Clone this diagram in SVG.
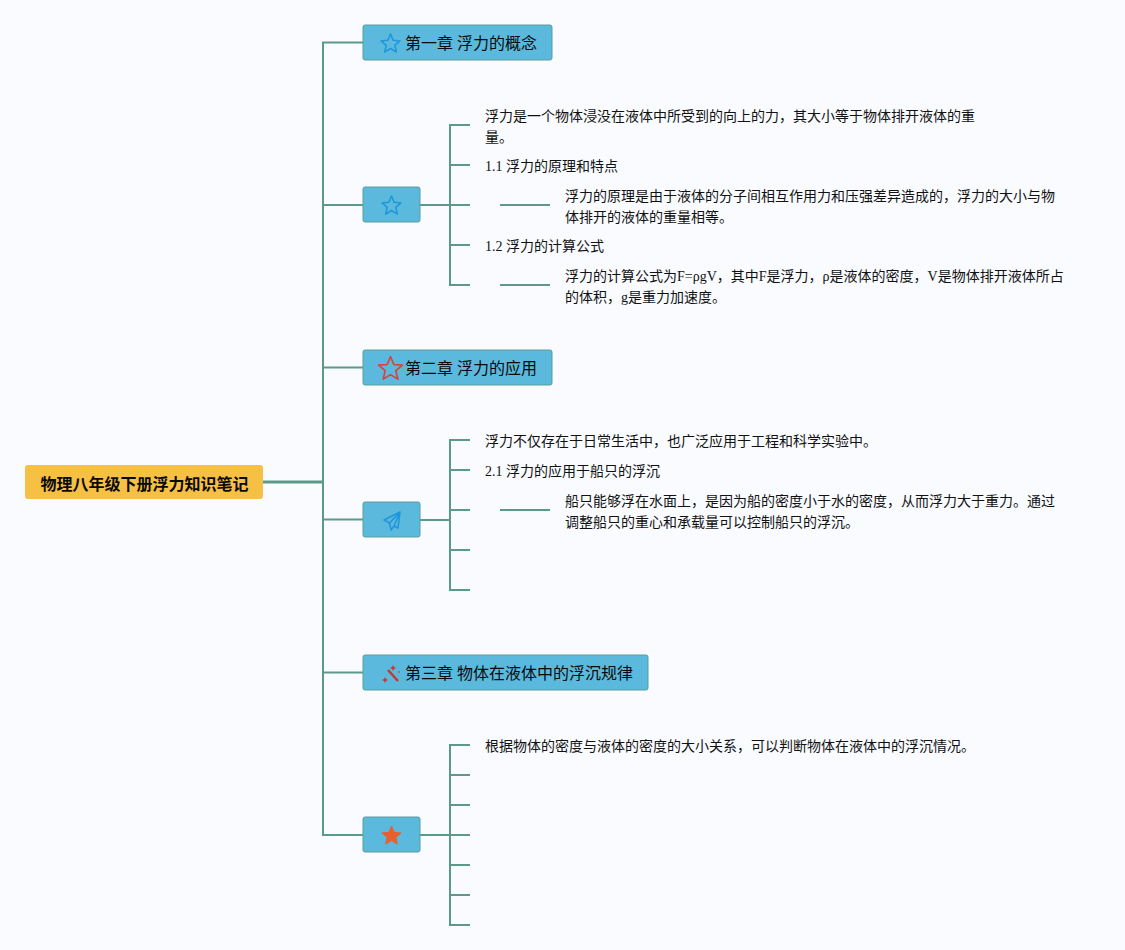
<svg xmlns="http://www.w3.org/2000/svg" width="1125" height="950" viewBox="0 0 1125 950">
<style>
text{font-family:"Liberation Serif","Noto Sans CJK SC",serif;fill:#111;font-size:14px}
.t{font-size:16px;fill:#0a0a0a}
.r{font-size:16px;font-weight:700;fill:#0a0a0a;font-family:"Liberation Sans","Noto Sans CJK SC",sans-serif}
.n{fill:#5ab9dc;stroke:#5a9e9c;stroke-width:1}
.c{fill:none;stroke:#5b9a8b;stroke-width:2}
</style>
<defs>
<path id="star" d="M0-10 2.65-3.64 9.51-3.09 4.28 1.39 5.88 8.09 0 4.5-5.88 8.09-4.28 1.39-9.51-3.09-2.65-3.64Z" stroke-linejoin="round"/>
</defs>
<rect width="1125" height="950" fill="#f9fbff"/>
<g id="connectors">
<path class="c" d="M263 482H323" stroke-width="3" style="stroke-width:3"/>
<path class="c" d="M363 42.500H323V835H363M323 205H363M323 367.500H363M323 519.500H363M323 672.500H363"/>
<path class="c" d="M420 205H450M470 125H450V285H470M450 165H470M450 205H470M450 245H470M500 205H550M500 285H550"/>
<path class="c" d="M420 520H450M470 440H450V590H470M450 470H470M450 510H470M450 550H470M500 510H550"/>
<path class="c" d="M420 835H450M470 745H450V925H470M450 775H470M450 805H470M450 835H470M450 865H470M450 895H470"/>
</g>
<g id="root"><rect x="25" y="465" width="238" height="34" rx="3" fill="#f6c044"/><text class="r" x="40.500" y="490">物理八年级下册浮力知识笔记</text></g>
<g id="ch1"><rect class="n" x="363" y="25" width="189" height="35" rx="2"/><use href="#star" x="390.500" y="44" fill="none" stroke="#1f96dc" stroke-width="1.500"/><text class="t" x="405" y="49">第一章 浮力的概念</text></g>
<g id="n1"><rect class="n" x="363" y="187" width="57" height="35" rx="2"/><use href="#star" x="391.500" y="206" fill="none" stroke="#1f96dc" stroke-width="1.500"/></g>
<g id="ch2"><rect class="n" x="363" y="350" width="189" height="35" rx="2"/><use href="#star" transform="translate(390.500 369) scale(1.250)" fill="none" stroke="#d8423a" stroke-width="1.300"/><text class="t" x="405" y="374">第二章 浮力的应用</text></g>
<g id="n2"><rect class="n" x="363" y="502" width="57" height="35" rx="2"/><path d="M400 512 384 520 389.500 523 391 530 394 526 398 528ZM389.500 523 400 512 394 526" fill="none" stroke="#1f96dc" stroke-width="1.500" stroke-linejoin="round"/></g>
<g id="ch3"><rect class="n" x="363" y="655" width="285" height="35" rx="2"/><path d="M388 670 398 681" stroke="#c9382f" stroke-width="2.500" fill="none"/><path d="M393 665 394 667 396 668 394 669 393 671 392 669 390 668 392 667ZM385 677 386 679 388 680 386 681 385 683 384 681 382 680 384 679ZM399 671l1 1-1 1-1-1Z" fill="#c9382f"/><text class="t" x="405" y="679">第三章 物体在液体中的浮沉规律</text></g>
<g id="n3"><rect class="n" x="363" y="817" width="57" height="35" rx="2"/><use href="#star" x="391.500" y="836" fill="#e8602c" stroke="#e8602c"/></g>
<g id="t1"><text x="485" y="121">浮力是一个物体浸没在液体中所受到的向上的力，其大小等于物体排开液体的重</text><text x="485" y="142">量。</text></g>
<g id="t2"><text x="485" y="171">1.1 浮力的原理和特点</text></g>
<g id="t3"><text x="565" y="201">浮力的原理是由于液体的分子间相互作用力和压强差异造成的，浮力的大小与物</text><text x="565" y="222">体排开的液体的重量相等。</text></g>
<g id="t4"><text x="485" y="251">1.2 浮力的计算公式</text></g>
<g id="t5"><text x="565" y="281">浮力的计算公式为F=ρgV，其中F是浮力，ρ是液体的密度，V是物体排开液体所占</text><text x="565" y="302">的体积，g是重力加速度。</text></g>
<g id="t6"><text x="485" y="446">浮力不仅存在于日常生活中，也广泛应用于工程和科学实验中。</text></g>
<g id="t7"><text x="485" y="476">2.1 浮力的应用于船只的浮沉</text></g>
<g id="t8"><text x="565" y="506">船只能够浮在水面上，是因为船的密度小于水的密度，从而浮力大于重力。通过</text><text x="565" y="527">调整船只的重心和承载量可以控制船只的浮沉。</text></g>
<g id="t9"><text x="485" y="751">根据物体的密度与液体的密度的大小关系，可以判断物体在液体中的浮沉情况。</text></g>
</svg>
